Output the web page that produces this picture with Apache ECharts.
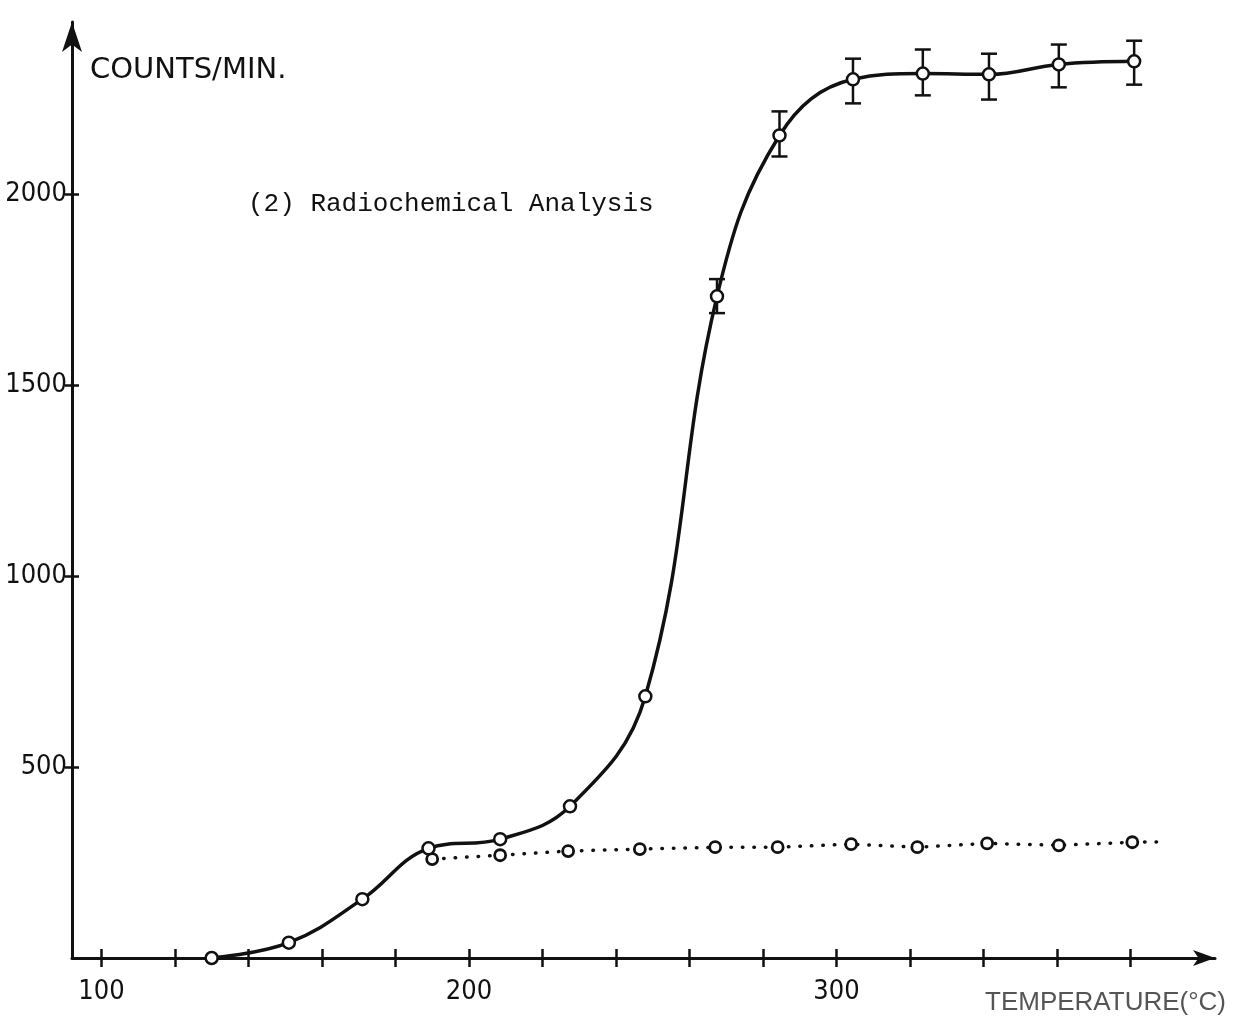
<!DOCTYPE html>
<html>
<head>
<meta charset="utf-8">
<script src="https://cdn.jsdelivr.net/npm/echarts@6/dist/echarts.min.js"></script>
<style>
html,body{margin:0;padding:0;background:#fff;}
#chart{width:1252px;height:1032px;}
</style>
</head>
<body>
<div id="chart"></div>
<script>
// ---- data ----
const tempSolid   = [130, 151, 171, 189, 208.5, 227.5, 248, 267.5, 284.5, 304.5, 323.5, 341.5, 360.5, 381];
const countsSolid = [0, 40, 154, 287, 311, 397, 685, 1732, 2153, 2300, 2315, 2313, 2339, 2347];

const tempErr  = [267.5, 284.5, 304.5, 323.5, 341.5, 360.5, 381];
const errLow   = [1688, 2098, 2237, 2258, 2247, 2279, 2286];
const errHigh  = [1777, 2216, 2354, 2378, 2367, 2391, 2401];

const tempDotted   = [190, 208.5, 227, 246.5, 267, 284, 304, 322, 341, 360.5, 380.5];
const countsDotted = [259, 269, 280, 285, 290, 290, 298, 290, 300, 295, 303];
const dottedEnd    = [387.5, 304];   // where the dotted line stops (no marker)

const xTickValues  = [100, 120, 140, 160, 180, 200, 220, 240, 260, 280, 300, 320, 340, 360, 380];
const xLabelValues = [100, 200, 300];
const yTickValues  = [500, 1000, 1500, 2000];

const xTitle = 'TEMPERATURE(°C)';
const yTitle = 'COUNTS/MIN.';
const annot  = '(2) Radiochemical Analysis';

// ---- chart ----
const INK = '#111';
const tickFont = '"Liberation Sans Narrow", "DejaVu Sans Condensed", "Liberation Sans", sans-serif';

const solidData  = tempSolid.map((t, i) => [t, countsSolid[i]]);
const dottedData = tempDotted.map((t, i) => [t, countsDotted[i]]);
dottedData.push({ value: dottedEnd, symbol: 'none' });
const errData = tempErr.map((t, i) => [t, errLow[i], errHigh[i]]);

const chart = echarts.init(document.getElementById('chart'), null, { renderer: 'canvas' });

const xBase = { type: 'value', min: 92, max: 403, position: 'bottom', splitLine: { show: false } };
const yBase = { type: 'value', min: 0, max: 2450, interval: 500, position: 'left', splitLine: { show: false } };
const plain = v => String(v);

chart.setOption({
  animation: false,
  backgroundColor: '#fff',
  grid: { left: 72, right: 37, top: 22, bottom: 74, containLabel: false, outerBoundsMode: 'none' },
  xAxis: [
    Object.assign({}, xBase, {
      axisLine: { show: true, onZero: false, symbol: ['none', 'arrow'], symbolSize: [12, 22],
                  lineStyle: { color: INK, width: 3 } },
      axisTick: { show: true, inside: false, length: 9, customValues: xTickValues,
                  lineStyle: { color: INK, width: 2.5 } },
      axisLabel: { show: true, customValues: xLabelValues, margin: 20, color: INK,
                   fontFamily: tickFont, fontSize: 27, formatter: plain }
    }),
    Object.assign({}, xBase, {
      axisLine: { show: true, onZero: false, lineStyle: { color: 'rgba(0,0,0,0)', width: 0.1 } },
      axisTick: { show: true, inside: true, length: 9, customValues: xTickValues,
                  lineStyle: { color: INK, width: 2.5 } },
      axisLabel: { show: false }
    })
  ],
  yAxis: [
    Object.assign({}, yBase, {
      axisLine: { show: true, onZero: false, symbol: ['none', 'arrow'], symbolSize: [15, 30],
                  lineStyle: { color: INK, width: 3 } },
      axisTick: { show: true, inside: false, length: 7, customValues: yTickValues,
                  lineStyle: { color: INK, width: 2.5 } },
      axisLabel: { show: true, customValues: yTickValues, margin: 5, color: INK,
                   fontFamily: tickFont, fontSize: 27, formatter: plain }
    }),
    Object.assign({}, yBase, {
      axisLine: { show: true, onZero: false, lineStyle: { color: 'rgba(0,0,0,0)', width: 0.1 } },
      axisTick: { show: true, inside: true, length: 7, customValues: yTickValues,
                  lineStyle: { color: INK, width: 2.5 } },
      axisLabel: { show: false }
    })
  ],
  series: [
    {
      type: 'custom',
      xAxisIndex: 0, yAxisIndex: 0,
      z: 1,
      data: errData,
      renderItem: function (params, api) {
        const x = api.value(0);
        const lo = api.coord([x, api.value(1)]);
        const hi = api.coord([x, api.value(2)]);
        const w = 8;
        const st = { stroke: INK, lineWidth: 2.5, fill: null };
        return {
          type: 'group',
          children: [
            { type: 'line', shape: { x1: lo[0], y1: lo[1], x2: hi[0], y2: hi[1] }, style: st },
            { type: 'line', shape: { x1: lo[0] - w, y1: lo[1], x2: lo[0] + w, y2: lo[1] }, style: st },
            { type: 'line', shape: { x1: hi[0] - w, y1: hi[1], x2: hi[0] + w, y2: hi[1] }, style: st }
          ]
        };
      }
    },
    {
      type: 'line',
      xAxisIndex: 0, yAxisIndex: 0,
      z: 3,
      data: dottedData,
      smooth: false,
      symbol: 'circle',
      symbolSize: 11,
      lineStyle: { color: INK, width: 3.5, type: [0.5, 11], cap: 'round' },
      itemStyle: { color: '#fff', borderColor: INK, borderWidth: 2.8 }
    },
    {
      type: 'line',
      xAxisIndex: 0, yAxisIndex: 0,
      z: 4,
      data: solidData,
      smooth: 0.4,
      symbol: 'circle',
      symbolSize: 12,
      lineStyle: { color: INK, width: 3.5 },
      itemStyle: { color: '#fff', borderColor: INK, borderWidth: 2.5 }
    }
  ],
  graphic: [
    { type: 'text', x: 90, y: 70,
      style: { text: yTitle, font: '29px "DejaVu Sans", sans-serif', fill: INK,
               textAlign: 'left', textVerticalAlign: 'middle' } },
    { type: 'text', x: 248, y: 204,
      style: { text: annot, font: '26px "Liberation Mono", monospace', fill: INK,
               textAlign: 'left', textVerticalAlign: 'middle' } },
    { type: 'text', x: 985, y: 1003,
      style: { text: xTitle, font: '26px "Liberation Sans", sans-serif', fill: '#555',
               textAlign: 'left', textVerticalAlign: 'middle' } }
  ]
});
</script>
</body>
</html>
